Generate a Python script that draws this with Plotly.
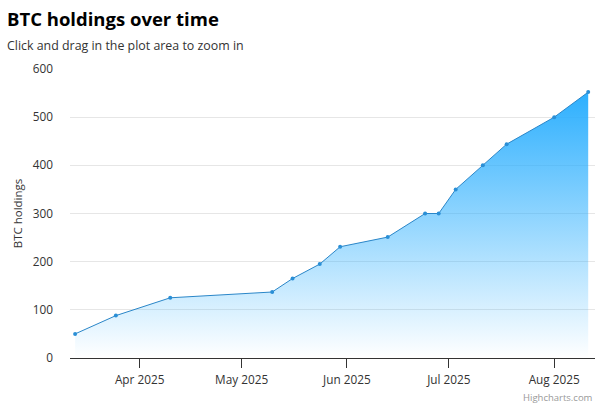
import plotly.graph_objects as go

dates = ["2025-03-13", "2025-03-25", "2025-04-10", "2025-05-10", "2025-05-16",
         "2025-05-24", "2025-05-30", "2025-06-13", "2025-06-24", "2025-06-28",
         "2025-07-03", "2025-07-11", "2025-07-18", "2025-08-01", "2025-08-11"]
holdings = [50, 88, 125, 137, 165, 195, 231, 251, 300, 300, 350, 400, 444, 500, 552]

title_text = "BTC holdings over time"
subtitle_text = "Click and drag in the plot area to zoom in"
y_title = "BTC holdings"
tick_dates = ["2025-04-01", "2025-05-01", "2025-06-01", "2025-07-01", "2025-08-01"]
tick_labels = ["Apr 2025", "May 2025", "Jun 2025", "Jul 2025", "Aug 2025"]
y_ticks = [0, 100, 200, 300, 400, 500, 600]

FONT = "Open Sans"
W, H = 600, 409
M_L, M_R, M_T, M_B = 70, 5, 69, 51

fig = go.Figure()
fig.add_trace(go.Scatter(
    x=dates, y=holdings, mode="lines+markers",
    line=dict(color="#2a86c8", width=1),
    marker=dict(size=4, color="#2a8fd6"),
    fill="tozeroy",
    fillgradient=dict(
        type="vertical",
        start=0, stop=max(holdings),
        colorscale=[[0, "rgba(44,175,254,0)"], [1, "rgba(44,175,254,1)"]],
    ),
    hoverinfo="x+y",
    showlegend=False,
))

fig.update_layout(
    width=W, height=H,
    margin=dict(l=M_L, r=M_R, t=M_T, b=M_B),
    paper_bgcolor="white", plot_bgcolor="white",
    font=dict(family=FONT, color="#333333", size=12),
    xaxis=dict(
        type="date",
        range=["2025-03-11 12:00", "2025-08-13"],
        tickvals=tick_dates, ticktext=tick_labels,
        showgrid=False, showline=True, linecolor="#333333", linewidth=1,
        ticks="outside", ticklen=9, tickcolor="#333333", tickwidth=1,
        tickfont=dict(size=11.8, color="#333333"),
        ticklabelstandoff=2,
        zeroline=False,
    ),
    yaxis=dict(
        range=[0, 600], tickvals=y_ticks,
        showgrid=True, gridcolor="#e6e6e6", gridwidth=1,
        zeroline=False, showline=False,
        tickfont=dict(size=11.8, color="#333333"),
        ticklabelstandoff=16,
        title=dict(text=y_title, font=dict(size=11.5, color="#333333"), standoff=7),
    ),
)

fig.add_annotation(text="<b>" + title_text + "</b>", xref="paper", yref="paper",
                   x=0, y=1, xanchor="left", yanchor="middle", showarrow=False,
                   font=dict(size=18.5, color="#000000", family=FONT),
                   xshift=-(M_L - 5), yshift=M_T - 18)
fig.add_annotation(text=subtitle_text, xref="paper", yref="paper",
                   x=0, y=1, xanchor="left", yanchor="middle", showarrow=False,
                   font=dict(size=12.4, color="#333333", family=FONT),
                   xshift=-(M_L - 5), yshift=M_T - 45)
fig.add_annotation(text="Highcharts.com", xref="paper", yref="paper",
                   x=1, y=0, xanchor="right", yanchor="middle", showarrow=False,
                   font=dict(size=9.5, color="#999999", family=FONT),
                   xshift=0, yshift=-(397 - (H - M_B)))

fig.write_html("out.html", config={"displayModeBar": False},
               post_script="document.body.style.margin='0';")
